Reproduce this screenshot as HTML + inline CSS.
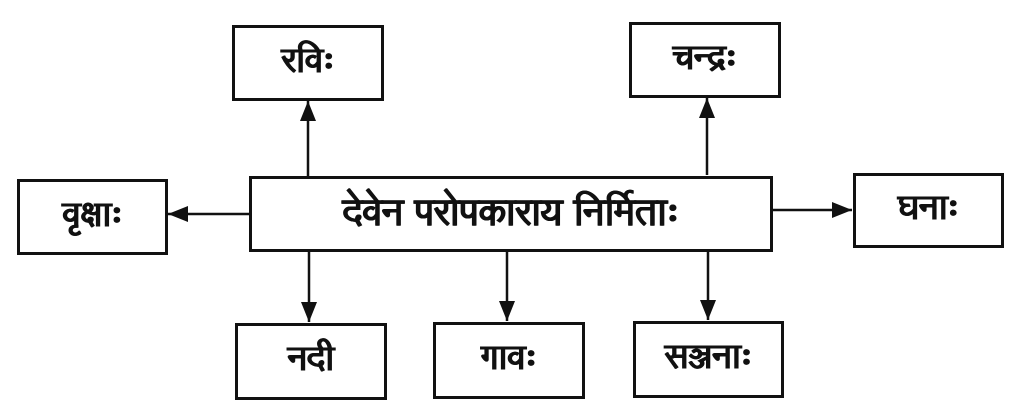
<!DOCTYPE html>
<html><head><meta charset="utf-8"><style>
html,body{margin:0;padding:0;background:#fff;}
body{width:1015px;height:411px;position:relative;overflow:hidden;font-family:"Lohit Devanagari","Noto Sans Devanagari","Liberation Sans","DejaVu Sans",sans-serif;}
.b{position:absolute;box-sizing:border-box;border:3px solid #111;display:flex;align-items:center;justify-content:center;font-size:34px;font-weight:bold;color:#111;text-shadow:0.6px 0 0 #111,-0.4px 0 0 #111;}
svg{position:absolute;left:0;top:0;}
</style></head><body>
<svg width="1015" height="411">
<defs>
<marker id="m" viewBox="0 0 20 16" markerWidth="20" markerHeight="16" refX="20" refY="8" orient="auto" markerUnits="userSpaceOnUse"><path d="M0,0 L20,8 L0,16 z" fill="#111"/></marker></defs>
<g stroke="#111" stroke-width="2.5" fill="none">
<line x1="308" y1="177" x2="308" y2="101" marker-end="url(#m)"/>
<line x1="707" y1="175" x2="707" y2="98" marker-end="url(#m)"/>
<line x1="249" y1="214" x2="168" y2="214" marker-end="url(#m)"/>
<line x1="772" y1="210" x2="852" y2="210" marker-end="url(#m)"/>
<line x1="309" y1="252" x2="309" y2="322" marker-end="url(#m)"/>
<line x1="507" y1="252" x2="507" y2="321" marker-end="url(#m)"/>
<line x1="708" y1="250" x2="708" y2="320" marker-end="url(#m)"/>
</g></svg>
<div class="b" style="left:232px;top:25px;width:152px;height:76px;">रविः</div>
<div class="b" style="left:629px;top:22px;width:152px;height:76px;">चन्द्रः</div>
<div class="b" style="left:17px;top:179px;width:151px;height:76px;">वृक्षाः</div>
<div class="b" style="left:249px;top:176px;width:524px;height:76px;font-size:37px;">देवेन परोपकाराय निर्मिताः</div>
<div class="b" style="left:853px;top:173px;width:151px;height:75px;">घनाः</div>
<div class="b" style="left:235px;top:323px;width:152px;height:77px;">नदी</div>
<div class="b" style="left:433px;top:322px;width:152px;height:77px;">गावः</div>
<div class="b" style="left:633px;top:321px;width:151px;height:77px;">सञ्जनाः</div>
</body></html>
